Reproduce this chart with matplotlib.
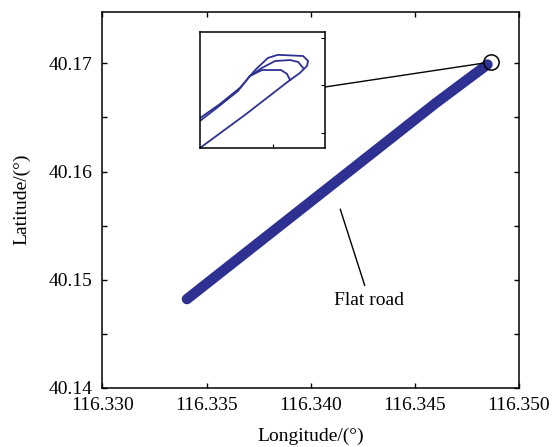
import matplotlib
matplotlib.use("Agg")
import matplotlib.pyplot as plt
from matplotlib.ticker import MultipleLocator, FormatStrFormatter

plt.rcParams['font.family'] = ['Liberation Serif', 'DejaVu Serif']

# GPS track along the flat road (longitude, latitude in degrees)
track_lon = [116.33406, 116.33800, 116.34200, 116.34600, 116.34849]
track_lat = [40.14820, 40.15418, 40.16025, 40.16632, 40.16990]

# Detail of the turning point at the north-east end of the track
out_lon = [116.348293, 116.348482, 116.348672]
out_lat = [40.169737, 40.169876, 40.170023]

inner_lon = [116.348672, 116.348659, 116.348634, 116.348554, 116.348503,
             116.348453, 116.348369, 116.348293]
inner_lat = [40.170023, 40.170049, 40.170065, 40.170065, 40.170040,
             40.169977, 40.169910, 40.169851]

outer_lon = [116.348672, 116.348714, 116.348743, 116.348748, 116.348727,
             116.348621, 116.348579, 116.348525, 116.348461, 116.348377,
             116.348293]
outer_lat = [40.170023, 40.170053, 40.170082, 40.170103, 40.170124,
             40.170129, 40.170116, 40.170065, 40.169990, 40.169922,
             40.169863]

middle_lon = [116.348727, 116.348706, 116.348672, 116.348609, 116.348554,
              116.348503]
middle_lat = [40.170074, 40.170099, 40.170107, 40.170103, 40.170074,
              40.170040]

# Highlighted turning point
turn_lon, turn_lat = 116.34866, 40.17013

# Annotation
road_label = "Flat road"
label_lon, label_lat = 116.34282, 40.14811
pointer_lon, pointer_lat = 116.34142, 40.15652

x_ticks = [116.330, 116.335, 116.340, 116.345, 116.350]
y_ticks = [40.14, 40.15, 40.16, 40.17]

blue = '#2e3192'
fs = 14

fig = plt.figure(figsize=(5.58, 4.47), dpi=100)
ax = fig.add_axes([0.1835, 0.1326, 0.7465, 0.8416])

ax.plot(track_lon, track_lat, color=blue, lw=7.5, solid_capstyle='round',
        solid_joinstyle='round')

ax.plot([turn_lon], [turn_lat], marker='o', ms=11, mfc='none', mec='k',
        mew=1.1, zorder=5)

ax.set_xlim(116.330, 116.350)
ax.set_ylim(40.14, 40.1748)
ax.set_xticks(x_ticks)
ax.set_yticks(y_ticks)
ax.yaxis.set_minor_locator(MultipleLocator(0.005))
ax.xaxis.set_major_formatter(FormatStrFormatter('%.3f'))
ax.yaxis.set_major_formatter(FormatStrFormatter('%.2f'))
ax.tick_params(which='both', direction='in', length=3.5, width=1.0,
               right=True, top=True, labelsize=fs)
ax.tick_params(axis='y', which='both', pad=7)
ax.tick_params(axis='x', which='both', pad=6.5)
for s in ax.spines.values():
    s.set_linewidth(1.1)

ax.set_xlabel('Longitude/(°)', fontsize=fs, labelpad=10)
ax.set_ylabel('Latitude/(°)', fontsize=fs, labelpad=13)

ax.text(label_lon, label_lat, road_label, ha='center', va='center',
        fontsize=fs)
ax.annotate('', xy=(pointer_lon, pointer_lat),
            xytext=(label_lon, label_lat),
            arrowprops=dict(arrowstyle='-', color='k', lw=1.0,
                            shrinkA=11, shrinkB=0))

# inset with the turning manoeuvre
axins = fig.add_axes([0.3584, 0.6689, 0.2240, 0.2595])
for lon, lat in [(out_lon, out_lat), (inner_lon, inner_lat),
                 (outer_lon, outer_lat), (middle_lon, middle_lat)]:
    axins.plot(lon, lat, color=blue, lw=1.3)
axins.set_xlim(116.348293, 116.348819)
axins.set_ylim(40.169737, 40.170225)
axins.set_xticks([116.3486])
axins.set_yticks([40.1698, 40.1700, 40.1702])
axins.tick_params(direction='in', length=3, width=0.8, labelleft=False,
                  labelbottom=False, left=False, right=True, top=False)
for s in axins.spines.values():
    s.set_linewidth(1.1)

ax.annotate('', xy=(turn_lon, turn_lat), xycoords='data',
            xytext=(1.0, 0.526), textcoords=axins.transAxes,
            arrowprops=dict(arrowstyle='-', color='k', lw=1.0,
                            shrinkA=0, shrinkB=5.5))

fig.savefig('out.png', dpi=100)
